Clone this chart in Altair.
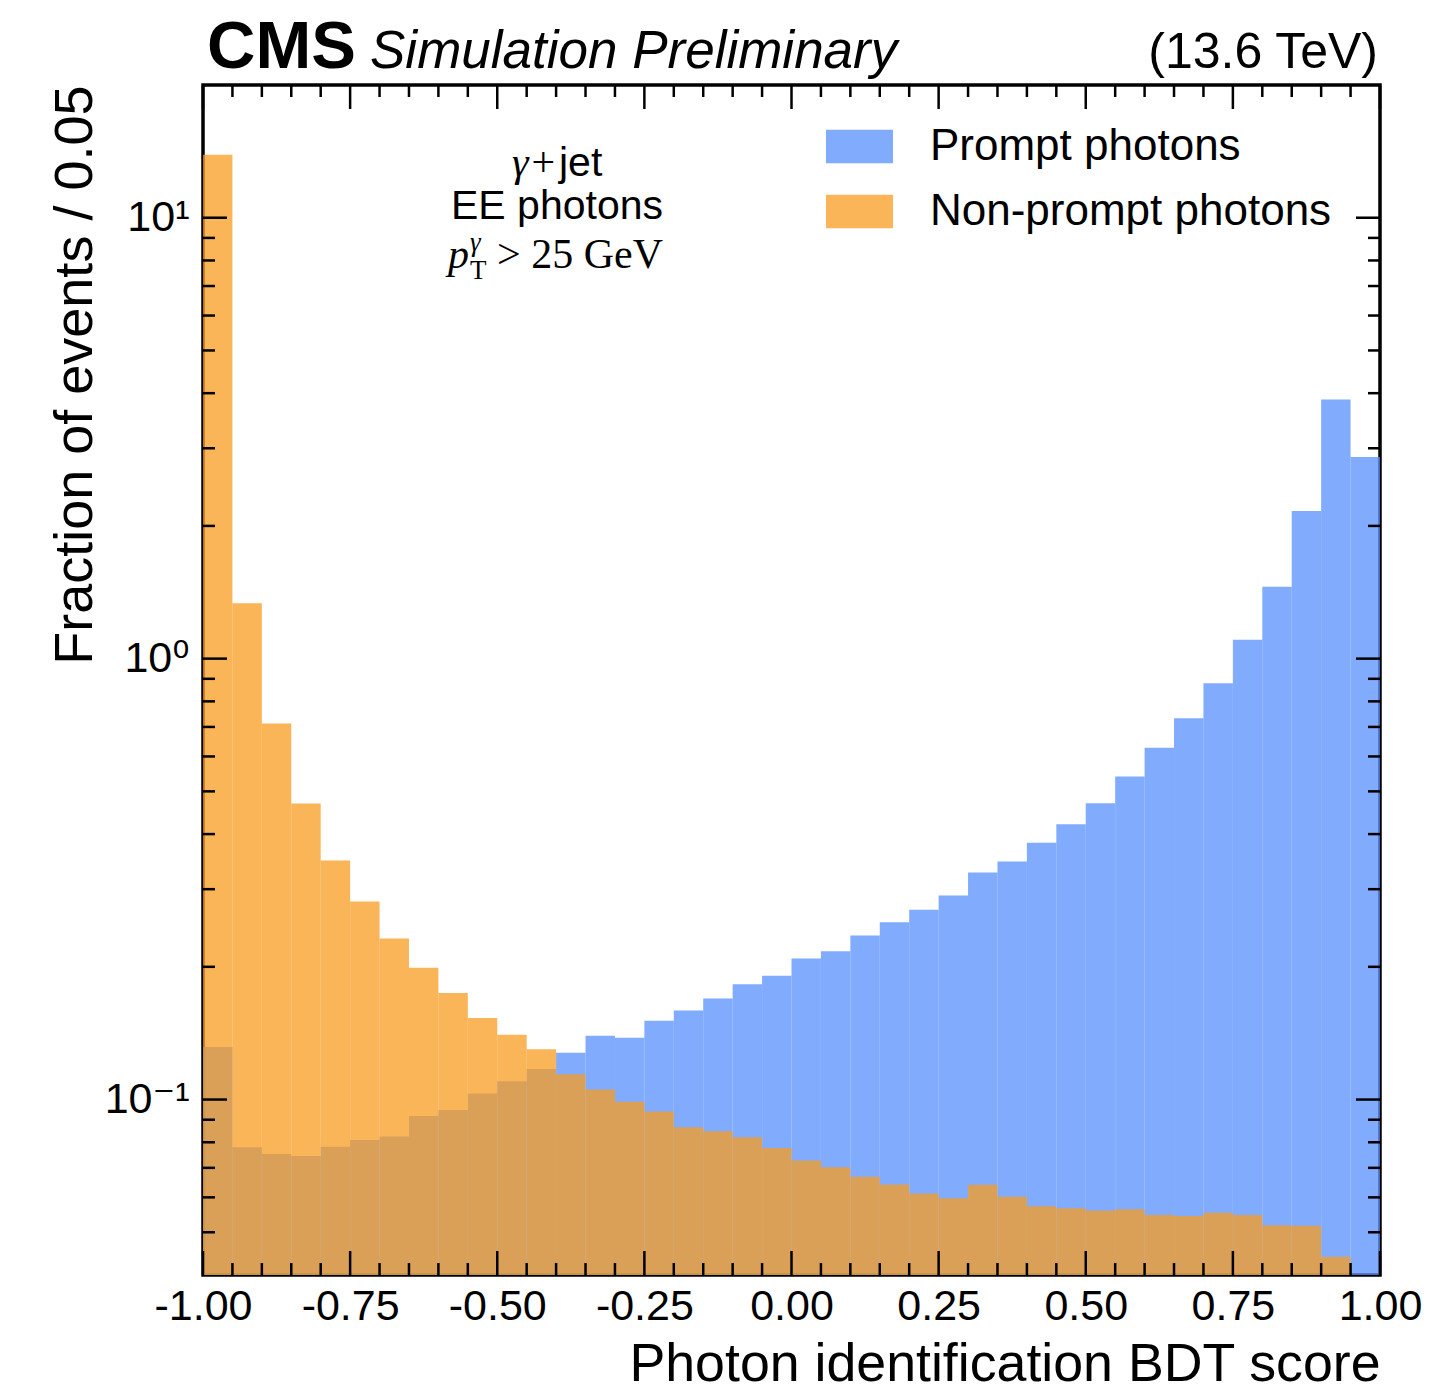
import altair as alt
import pandas as pd

# ---------------- data ----------------
bin_lo = [-1.00, -0.95, -0.90, -0.85, -0.80, -0.75, -0.70, -0.65, -0.60, -0.55,
          -0.50, -0.45, -0.40, -0.35, -0.30, -0.25, -0.20, -0.15, -0.10, -0.05,
          0.00, 0.05, 0.10, 0.15, 0.20, 0.25, 0.30, 0.35, 0.40, 0.45,
          0.50, 0.55, 0.60, 0.65, 0.70, 0.75, 0.80, 0.85, 0.90, 0.95]
bin_hi = [-0.95, -0.90, -0.85, -0.80, -0.75, -0.70, -0.65, -0.60, -0.55, -0.50,
          -0.45, -0.40, -0.35, -0.30, -0.25, -0.20, -0.15, -0.10, -0.05, 0.00,
          0.05, 0.10, 0.15, 0.20, 0.25, 0.30, 0.35, 0.40, 0.45, 0.50,
          0.55, 0.60, 0.65, 0.70, 0.75, 0.80, 0.85, 0.90, 0.95, 1.00]

prompt = [0.1316, 0.0779, 0.0752, 0.0745, 0.0782, 0.0810, 0.0824, 0.0918, 0.0947, 0.1032,
          0.1100, 0.1173, 0.1276, 0.1396, 0.1380, 0.1510, 0.1593, 0.1694, 0.1826, 0.1910,
          0.2089, 0.2170, 0.2354, 0.2523, 0.2694, 0.2904, 0.3273, 0.3465, 0.3824, 0.4210,
          0.4700, 0.5407, 0.6281, 0.7320, 0.8790, 1.104, 1.455, 2.162, 3.870, 2.867]

nonprompt = [13.9, 1.336, 0.713, 0.469, 0.3486, 0.2814, 0.2320, 0.1990, 0.1744, 0.1531,
             0.1402, 0.1300, 0.1141, 0.1054, 0.0988, 0.0939, 0.0865, 0.0847, 0.0821, 0.0776,
             0.0727, 0.0702, 0.0668, 0.0642, 0.0612, 0.0597, 0.0641, 0.0602, 0.0573, 0.0567,
             0.0560, 0.0564, 0.0547, 0.0544, 0.0554, 0.0547, 0.0519, 0.0517, 0.0440, 0.0350]

series_names = ["Prompt photons", "Non-prompt photons"]
series_colors = ["#5790fc", "#f89c20"]

x_major = [-1.0, -0.75, -0.5, -0.25, 0.0, 0.25, 0.5, 0.75, 1.0]
x_minor = [-0.95, -0.90, -0.85, -0.80, -0.70, -0.65, -0.60, -0.55, -0.45, -0.40,
           -0.35, -0.30, -0.20, -0.15, -0.10, -0.05, 0.05, 0.10, 0.15, 0.20,
           0.30, 0.35, 0.40, 0.45, 0.55, 0.60, 0.65, 0.70, 0.80, 0.85, 0.90, 0.95]
y_major = [0.1, 1.0, 10.0]
y_minor = [0.05, 0.06, 0.07, 0.08, 0.09,
           0.2, 0.3, 0.4, 0.5, 0.6, 0.7, 0.8, 0.9,
           2, 3, 4, 5, 6, 7, 8, 9]

# ---------------- layout / style ----------------
W, H = 1177, 1190
MAJ, MIN = 24, 12
SANS = "Liberation Sans, Arial, Helvetica, DejaVu Sans, sans-serif"
SERIF = "Liberation Serif, DejaVu Serif, serif"

x_scale = alt.Scale(domain=[-1, 1], nice=False, zero=False)
y_scale = alt.Scale(type="log", domain=[0.04, 20], nice=False)

x_axis = alt.Axis(
    values=x_major,
    labelExpr="replace(format(datum.value, '.2f'), '\u2212', '-')",
    ticks=False, tickSize=0, domain=False, grid=False,
    labelFont=SANS, labelFontSize=43, labelColor="black", labelPadding=10,
    labelFlush=False, labelOverlap=False,
    title="Photon identification BDT score",
    titleFont=SANS, titleFontSize=53.7, titleFontWeight="normal", titleColor="black",
    titleAnchor="end", titleAlign="right", titleBaseline="alphabetic",
    titleX=W, titleY=105,
)
y_axis = alt.Axis(
    values=y_major,
    labelExpr="datum.value >= 5 ? '10\u00b9' : datum.value >= 0.5 ? '10\u2070' : '10\u207b\u00b9'",
    ticks=False, tickSize=0, domain=False, grid=False,
    labelFont=SANS, labelFontSize=43, labelColor="black", labelPadding=14,
    labelFlush=False, labelOverlap=False,
    title="Fraction of events / 0.05",
    titleFont=SANS, titleFontSize=54, titleFontWeight="normal", titleColor="black",
    titleAnchor="end", titleAngle=270, titleAlign="right", titleBaseline="alphabetic",
    titleX=-112, titleY=0,
)

legend = alt.Legend(
    orient="none", legendX=623, legendY=28, title=None,
    symbolType="M-1,-0.5H1V0.5H-1Z", symbolSize=4489,
    symbolOpacity=0.75, symbolStrokeWidth=0,
    labelFont=SANS, labelFontSize=44, labelColor="black",
    labelOffset=37, labelLimit=1000, rowPadding=9, padding=0,
)
color_enc = alt.Color("series:N",
                      scale=alt.Scale(domain=series_names, range=series_colors),
                      legend=legend)

df_p = pd.DataFrame({"lo": bin_lo, "hi": bin_hi, "value": prompt, "series": series_names[0]})
df_n = pd.DataFrame({"lo": bin_lo, "hi": bin_hi, "value": nonprompt, "series": series_names[1]})


def bars(df):
    return alt.Chart(df).mark_bar(opacity=0.75, clip=True, strokeWidth=0).encode(
        x=alt.X("lo:Q", scale=x_scale, axis=x_axis),
        x2="hi:Q",
        y=alt.Y("value:Q", scale=y_scale, axis=y_axis),
        y2=alt.value(H),
        color=color_enc,
    )


def xticks(vals, length):
    d = pd.DataFrame({"v": vals})
    bottom = alt.Chart(d).mark_rule(color="black", strokeWidth=2.5).encode(
        x=alt.X("v:Q", scale=x_scale, axis=x_axis), y=alt.value(H), y2=alt.value(H - length))
    top = alt.Chart(d).mark_rule(color="black", strokeWidth=2.5).encode(
        x=alt.X("v:Q", scale=x_scale, axis=x_axis), y=alt.value(0), y2=alt.value(length))
    return [bottom, top]


def yticks(vals, length):
    d = pd.DataFrame({"v": vals})
    left = alt.Chart(d).mark_rule(color="black", strokeWidth=2.5).encode(
        y=alt.Y("v:Q", scale=y_scale, axis=y_axis), x=alt.value(0), x2=alt.value(length))
    right = alt.Chart(d).mark_rule(color="black", strokeWidth=2.5).encode(
        y=alt.Y("v:Q", scale=y_scale, axis=y_axis), x=alt.value(W), x2=alt.value(W - length))
    return [left, right]


def label(text, x, y, size, font=SANS, align="left", weight="normal", style="normal"):
    return alt.Chart(pd.DataFrame({"t": [text]})).mark_text(
        align=align, baseline="alphabetic", font=font, fontSize=size,
        fontWeight=weight, fontStyle=style, color="black",
    ).encode(text="t:N", x=alt.value(x), y=alt.value(y))


layers = [bars(df_p), bars(df_n)]
layers += xticks(x_major, MAJ) + xticks(x_minor, MIN)
layers += yticks(y_major, MAJ) + yticks(y_minor, MIN)
layers += [
    label("CMS", 4, -17, 67, weight="bold"),
    label("Simulation Preliminary", 167, -17, 53, style="italic"),
    label("(13.6 TeV)", W - 2, -17, 50, align="right"),
    label("\u03b3+", 354, 91, 42, font=SERIF, align="right", style="italic"),
    label("jet", 356, 91, 41),
    label("EE photons", 354, 134, 41, align="center"),
    label("p", 245, 183, 42, font=SERIF, style="italic"),
    label("\u03b3", 267, 166, 27, font=SERIF, style="italic"),
    label("T", 267, 194, 27, font=SERIF),
    label("> 25 GeV", 294, 183, 42, font=SERIF),
]

chart = alt.layer(*layers).properties(
    width=W, height=H,
    padding={"left": 203, "top": 85, "right": 59, "bottom": 117},
    autosize=alt.AutoSizeParams(type="none"),
).configure_view(stroke="black", strokeWidth=3.5)

chart.save("out.html", embed_options={"renderer": "svg", "actions": False})
